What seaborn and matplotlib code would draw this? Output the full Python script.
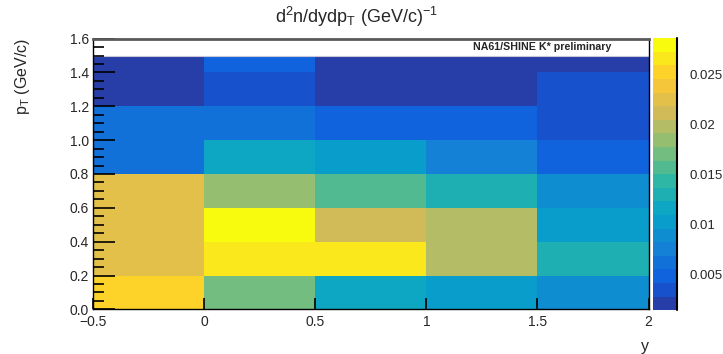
import numpy as np
import pandas as pd
import matplotlib
matplotlib.use("Agg")
import matplotlib.pyplot as plt
from matplotlib.colors import ListedColormap
import seaborn as sns

# ---- data -------------------------------------------------------------
# rapidity bin edges and transverse-momentum bin edges (GeV/c)
y_edges = [-0.5, 0.0, 0.5, 1.0, 1.5, 2.0]
pt_edges = [0.0, 0.2, 0.4, 0.6, 0.8, 1.0, 1.2, 1.4, 1.5]

# d2n/dy dpT per pT bin (low -> high pT), one list per rapidity bin
y_m05_0 = [0.0251, 0.0224, 0.0226, 0.0223, 0.0062, 0.0060, 0.0021, 0.0019]
y_0_05 = [0.0170, 0.0266, 0.0286, 0.0183, 0.0117, 0.0061, 0.0035, 0.0048]
y_05_1 = [0.0115, 0.0265, 0.0212, 0.0157, 0.0104, 0.0047, 0.0022, 0.0020]
y_1_15 = [0.0103, 0.0198, 0.0196, 0.0129, 0.0076, 0.0048, 0.0020, 0.0018]
y_15_2 = [0.0089, 0.0131, 0.0103, 0.0088, 0.0049, 0.0034, 0.0033, 0.0014]

x_ticks = [-0.5, 0.0, 0.5, 1.0, 1.5, 2.0]
x_tick_labels = ["\u22120.5", "0", "0.5", "1", "1.5", "2"]
y_ticks = [0.0, 0.2, 0.4, 0.6, 0.8, 1.0, 1.2, 1.4, 1.6]
y_tick_labels = ["0.0", "0.2", "0.4", "0.6", "0.8", "1.0", "1.2", "1.4", "1.6"]
z_ticks = [0.005, 0.01, 0.015, 0.02, 0.025]
z_tick_labels = ["0.005", "0.01", "0.015", "0.02", "0.025"]

# ---- style ------------------------------------------------------------
sns.set_style("ticks")
plt.rcParams["font.family"] = ["Liberation Sans", "DejaVu Sans"]
plt.rcParams["mathtext.fontset"] = "custom"
plt.rcParams["mathtext.rm"] = "Liberation Sans"
plt.rcParams["mathtext.it"] = "Liberation Sans"
plt.rcParams["mathtext.default"] = "regular"

# "bird" palette sampled at 20 contour levels
stops = [0.0, 0.125, 0.25, 0.375, 0.5, 0.625, 0.75, 0.875, 1.0]
red = [0.2082, 0.0592, 0.0780, 0.0232, 0.1802, 0.5301, 0.8186, 0.9956, 0.9764]
green = [0.1664, 0.3599, 0.5041, 0.6419, 0.7178, 0.7492, 0.7328, 0.7862, 0.9832]
blue = [0.5293, 0.8684, 0.8385, 0.7914, 0.6425, 0.4662, 0.3499, 0.1968, 0.0539]
n_levels = 20
fr = np.array([int((i + 0.99) * 255 / n_levels) / 254 for i in range(n_levels)])
band_colors = np.column_stack([np.interp(fr, stops, red),
                               np.interp(fr, stops, green),
                               np.interp(fr, stops, blue)])
cmap = ListedColormap(band_colors)

# ---- grid on 0.1 GeV/c rows so the narrow top bin keeps its height -----
fine = 0.1
reps = [int(round((pt_edges[i + 1] - pt_edges[i]) / fine)) for i in range(len(pt_edges) - 1)]
cols = [y_m05_0, y_0_05, y_05_1, y_1_15, y_15_2]
grid = np.column_stack([np.repeat(c, reps) for c in cols])
grid = np.vstack([grid, np.full((1, len(cols)), np.nan)])  # empty band up to 1.6
df = pd.DataFrame(grid)

zmin = np.nanmin(grid)
zmax = np.nanmax(grid)

fig = plt.figure(figsize=(7.23, 3.54), dpi=100)
ax = fig.add_axes([0.129, 0.126, 0.768, 0.765])
cax = fig.add_axes([0.903, 0.124, 0.034, 0.768])

sns.heatmap(df, ax=ax, cbar_ax=cax, cmap=cmap, vmin=zmin, vmax=zmax,
            xticklabels=False, yticklabels=False)
ax.collections[0].set_zorder(0.5)
ax.set_axisbelow(False)
ax.set_ylim(0, grid.shape[0])
ax.set_xlim(0, len(cols))

def xpos(v):
    return (v - y_edges[0]) / (y_edges[1] - y_edges[0])

def ypos(v):
    return v / fine

for s in ax.spines.values():
    s.set_visible(True)
    s.set_color("black")
    s.set_linewidth(1.0)
    s.set_zorder(3)
ax.spines["top"].set_color("#5a5a5a")
ax.spines["top"].set_linewidth(2.0)

ax.set_xticks([xpos(v) for v in x_ticks])
ax.set_xticklabels(x_tick_labels, fontsize=10)
ax.set_yticks([ypos(v) for v in y_ticks])
ax.set_yticklabels(y_tick_labels, fontsize=10)
ax.set_yticks([ypos(v) for v in np.arange(0, 1.601, 0.05)], minor=True)
ax.tick_params(axis="x", direction="in", length=8, width=1.2, pad=4, color="black")
ax.tick_params(axis="y", which="major", direction="in", length=16, width=1.2, pad=3, color="black")
ax.tick_params(axis="y", which="minor", direction="in", length=8, width=1.2, color="black")
ax.set_xlabel("")
ax.set_ylabel("")

# white label box along the top of the frame
ax.axhline(ypos(1.5), color="#c8c8d8", lw=0.8, zorder=2)
ax.text(xpos(1.52), ypos(1.548), "NA61/SHINE K* preliminary", fontsize=7.7,
        fontweight="bold", ha="center", va="center")

cbar = ax.collections[0].colorbar
cbar.outline.set_visible(False)
cbar.set_ticks(z_ticks)
cbar.set_ticklabels(z_tick_labels)
cax.tick_params(direction="in", length=8, width=1.5, labelsize=9.5, pad=9, color="black")
cax.plot([1, 1], [0, 1], transform=cax.transAxes, color="black", lw=1.5, clip_on=False)

fig.text(357 / 723, 1 - 17 / 354, r"d$^{2}$n/dydp$_{T}$ (GeV/c)$^{-1}$",
         ha="center", va="center", fontsize=13)
fig.text(22 / 723, 1 - 38 / 354, r"p$_{T}$ (GeV/c)", rotation=90,
         ha="center", va="top", fontsize=11.5)
fig.text(645 / 723, 1 - 346 / 354, "y", ha="center", va="center", fontsize=11.5)

fig.savefig("out.png", dpi=100)
